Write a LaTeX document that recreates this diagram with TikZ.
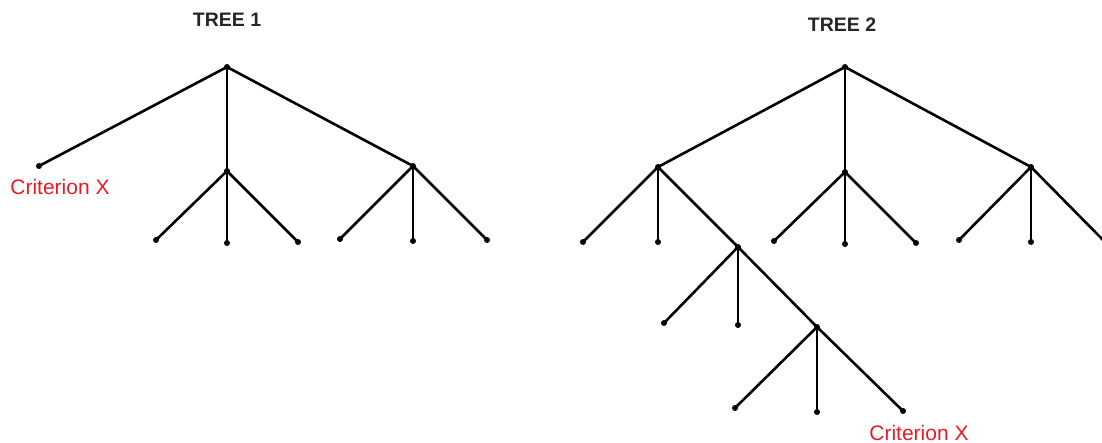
\documentclass[tikz,border=0pt]{standalone}
\usepackage{fontspec}
\setmainfont{Liberation Sans}
\definecolor{critred}{RGB}{232,28,36}
\tikzset{
  dot/.style={circle,fill=black,inner sep=0pt,minimum size=6pt},
  edge/.style={line width=2.6pt,black},
  title/.style={font=\fontsize{19.5}{22}\selectfont\bfseries,text=black!85},
  crit/.style={font=\fontsize{21}{24}\selectfont,text=critred}
}
\begin{document}
\begin{tikzpicture}[x=1pt,y=-1pt]
\useasboundingbox (0,0) rectangle (1102,443);
\clip (0,0) rectangle (1102,443);
\fill[white] (0,0) rectangle (1102,443);
% ---------- TREE 1 ----------
\node[title] (t1) at (227,20) {TREE 1};
\node[dot] (r1) at (227,67) {};
\node[dot] (a1) at (39,166) {};
\node[dot] (b1) at (227,171) {};
\node[dot] (c1) at (413,166) {};
\node[dot] (b1l) at (156,240) {};
\node[dot] (b1m) at (227,243) {};
\node[dot] (b1r) at (298,242) {};
\node[dot] (c1l) at (340,239) {};
\node[dot] (c1m) at (413,241) {};
\node[dot] (c1r) at (487,240) {};
\node[crit] (x1) at (60,187) {Criterion X};
\draw[edge] (r1.center) -- (a1.center);
\draw[edge] (r1.center) -- (b1.center);
\draw[edge] (r1.center) -- (c1.center);
\draw[edge] (b1.center) -- (b1l.center);
\draw[edge] (b1.center) -- (b1m.center);
\draw[edge] (b1.center) -- (b1r.center);
\draw[edge] (c1.center) -- (c1l.center);
\draw[edge] (c1.center) -- (c1m.center);
\draw[edge] (c1.center) -- (c1r.center);
% ---------- TREE 2 ----------
\node[title] (t2) at (842,25) {TREE 2};
\node[dot] (r2) at (845,67) {};
\node[dot] (a2) at (658,167) {};
\node[dot] (b2) at (845,172) {};
\node[dot] (c2) at (1031,167) {};
\node[dot] (a2l) at (583,242) {};
\node[dot] (a2m) at (658,242) {};
\node[dot] (d2) at (738,247) {};
\node[dot] (d2l) at (664,323) {};
\node[dot] (d2m) at (738,325) {};
\node[dot] (e2) at (817,327) {};
\node[dot] (e2l) at (735,408) {};
\node[dot] (e2m) at (817,412) {};
\node[dot] (e2r) at (903,411) {};
\node[dot] (b2l) at (774,241) {};
\node[dot] (b2m) at (845,244) {};
\node[dot] (b2r) at (916,243) {};
\node[dot] (c2l) at (959,240) {};
\node[dot] (c2m) at (1031,242) {};
\coordinate (c2r) at (1106,243);
\node[crit] (x2) at (919,433) {Criterion X};
\draw[edge] (r2.center) -- (a2.center);
\draw[edge] (r2.center) -- (b2.center);
\draw[edge] (r2.center) -- (c2.center);
\draw[edge] (a2.center) -- (a2l.center);
\draw[edge] (a2.center) -- (a2m.center);
\draw[edge] (a2.center) -- (d2.center);
\draw[edge] (d2.center) -- (d2l.center);
\draw[edge] (d2.center) -- (d2m.center);
\draw[edge] (d2.center) -- (e2.center);
\draw[edge] (e2.center) -- (e2l.center);
\draw[edge] (e2.center) -- (e2m.center);
\draw[edge] (e2.center) -- (e2r.center);
\draw[edge] (b2.center) -- (b2l.center);
\draw[edge] (b2.center) -- (b2m.center);
\draw[edge] (b2.center) -- (b2r.center);
\draw[edge] (c2.center) -- (c2l.center);
\draw[edge] (c2.center) -- (c2m.center);
\draw[edge] (c2.center) -- (c2r);
\end{tikzpicture}
\end{document}
